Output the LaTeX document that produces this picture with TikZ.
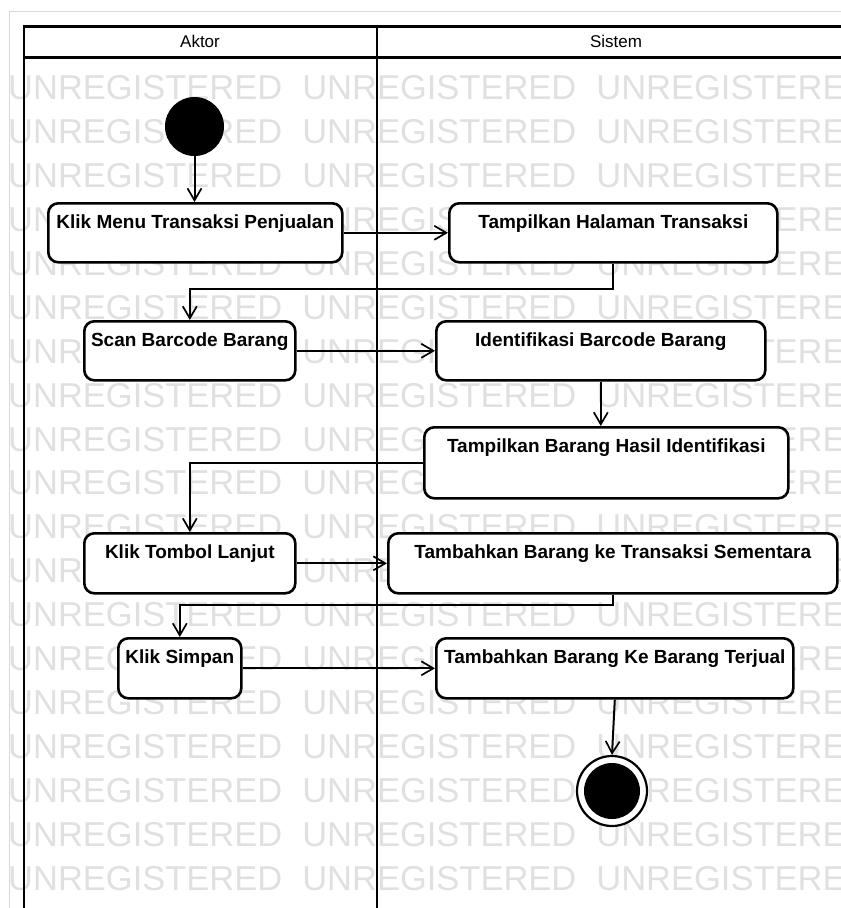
\documentclass[tikz,border=0pt]{standalone}
\usepackage{fontspec}
\setmainfont{Liberation Sans}
\usetikzlibrary{arrows.meta}

\newcommand{\wmrow}{UNREGISTERED\hspace{20pt}UNREGISTERED\hspace{20pt}UNREGISTERED}

\tikzset{
  act/.style={draw, rounded corners=10pt, line width=2.6pt, fill=white,
    anchor=north west, inner xsep=0pt, inner ysep=11pt,
    text height=14pt, text depth=23pt,
    font=\fontsize{19}{22}\selectfont\bfseries},
  flow/.style={line width=2pt,
    -{Straight Barb[length=12pt,width=14pt,line width=1.7pt]}},
  wm/.style={anchor=west, inner sep=0pt, text=black!12,
    font=\fontsize{34.5}{36}\selectfont},
  lane/.style={font=\fontsize{17}{20}\selectfont},
}

\begin{document}
\begin{tikzpicture}[x=1pt,y=-1pt]
  \useasboundingbox (0,0) rectangle (841,908);
  \clip (0,0) rectangle (841,908);
  \draw[black!15, line width=1pt] (9,908) -- (9,11) -- (841,11);

  % watermark
  \node[wm] (wm1) at (8,88) {\wmrow};
  \node[wm] (wm2) at (8,131.9) {\wmrow};
  \node[wm] (wm3) at (8,175.8) {\wmrow};
  \node[wm] (wm4) at (8,219.7) {\wmrow};
  \node[wm] (wm5) at (8,263.6) {\wmrow};
  \node[wm] (wm6) at (8,307.5) {\wmrow};
  \node[wm] (wm7) at (8,351.4) {\wmrow};
  \node[wm] (wm8) at (8,395.3) {\wmrow};
  \node[wm] (wm9) at (8,439.2) {\wmrow};
  \node[wm] (wm10) at (8,483.1) {\wmrow};
  \node[wm] (wm11) at (8,527) {\wmrow};
  \node[wm] (wm12) at (8,570.9) {\wmrow};
  \node[wm] (wm13) at (8,614.8) {\wmrow};
  \node[wm] (wm14) at (8,658.7) {\wmrow};
  \node[wm] (wm15) at (8,702.6) {\wmrow};
  \node[wm] (wm16) at (8,746.5) {\wmrow};
  \node[wm] (wm17) at (8,790.4) {\wmrow};
  \node[wm] (wm18) at (8,834.3) {\wmrow};
  \node[wm] (wm19) at (8,878.2) {\wmrow};

  % swimlanes
  \draw[line width=2.6pt] (24,908) -- (24,26.5) -- (860,26.5);
  \draw[line width=2.6pt] (24,57.5) -- (860,57.5);
  \draw[line width=2.2pt] (377,26.5) -- (377,908);
  \node[lane] (aktor) at (200,41) {Aktor};
  \node[lane] (sistem) at (616,41) {Sistem};

  % activities
  \node[circle, fill=black, minimum size=59pt, inner sep=0pt] (mulai) at (194.5,126.5) {};
  \node[act, minimum width=294pt] (klikmenu) at (47,202) {Klik Menu Transaksi Penjualan};
  \node[act, minimum width=328pt] (halaman) at (448,202) {Tampilkan Halaman Transaksi};
  \node[act, minimum width=211pt] (scan) at (83,320) {Scan Barcode Barang};
  \node[act, minimum width=329pt] (identifikasi) at (435,320) {Identifikasi Barcode Barang};
  \node[act, minimum width=364pt, text depth=35pt] (hasil) at (423,426) {Tampilkan Barang Hasil Identifikasi};
  \node[act, minimum width=211pt, text depth=24pt] (lanjut) at (83,532) {Klik Tombol Lanjut};
  \node[act, minimum width=449pt, text depth=24pt] (sementara) at (387,532) {Tambahkan Barang ke Transaksi Sementara};
  \node[act, minimum width=123pt, text depth=24pt] (simpan) at (117,637) {Klik Simpan};
  \node[act, minimum width=357pt, text depth=24pt] (terjual) at (435,637) {Tambahkan Barang Ke Barang Terjual};
  \node[circle, draw, fill=white, line width=2.2pt, minimum size=70pt, inner sep=0pt] (selesai) at (612,791) {};
  \node[circle, fill=black, minimum size=56pt, inner sep=0pt] (selesaiinti) at (selesai.center) {};

  % transitions
  \draw[flow] (mulai.south) -- (mulai |- klikmenu.north);
  \draw[flow] (klikmenu.east) -- (halaman.west);
  \draw[flow] (halaman.south) -- ++(0,25) -| (scan.north);
  \draw[flow] (scan.east) -- (identifikasi.west);
  \draw[flow] (identifikasi.south) -- (identifikasi.south |- hasil.north);
  \draw[flow] (hasil.west) -| (lanjut.north);
  \draw[flow] (lanjut.east) -- (sementara.west);
  \draw[flow] (sementara.south) -- ++(0,10) -| (simpan.north);
  \draw[flow] (simpan.east) -- (terjual.west);
  \draw[flow] (terjual.south) -- (selesai.north);
\end{tikzpicture}
\end{document}
